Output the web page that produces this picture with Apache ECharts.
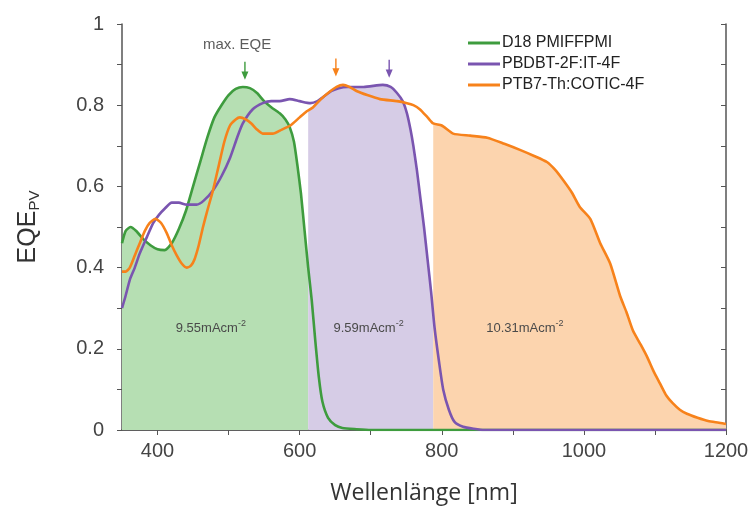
<!DOCTYPE html>
<html>
<head>
<meta charset="utf-8">
<script src="https://cdn.jsdelivr.net/npm/echarts@6/dist/echarts.min.js"></script>
<style>
html, body { margin: 0; padding: 0; background: #fff; }
#chart { width: 755px; height: 521px; }
</style>
</head>
<body>
<div id="chart"></div>
<script>
// D18 PMIFFPMI
var greenWl  = [350, 355, 362, 370, 380, 390, 400, 410, 420, 430, 440, 450, 460, 470, 480, 490, 500, 510, 520, 530, 540, 550, 560, 572, 580, 586, 592, 597, 602, 607, 612, 617, 622, 627, 632, 640, 650, 660, 680, 700, 1200];
var greenEqe = [0.46, 0.49, 0.50, 0.49, 0.47, 0.455, 0.445, 0.443, 0.46, 0.495, 0.54, 0.60, 0.66, 0.72, 0.77, 0.80, 0.825, 0.84, 0.845, 0.842, 0.83, 0.81, 0.795, 0.78, 0.765, 0.746, 0.71, 0.65, 0.58, 0.49, 0.40, 0.32, 0.22, 0.13, 0.07, 0.03, 0.012, 0.005, 0.002, 0, 0];

// PBDBT-2F:IT-4F
var purpleWl  = [350, 355, 361, 368, 375, 385, 394, 402, 410, 420, 430, 441, 455, 465, 478, 490, 502, 512, 520, 534, 548, 560, 572, 586, 600, 615, 625, 633, 645, 655, 667, 690, 717, 728, 737, 745, 751, 756, 760, 765, 770, 775, 780, 785, 790, 796, 802, 810, 818, 830, 845, 860, 1200];
var purpleEqe = [0.30, 0.33, 0.37, 0.40, 0.435, 0.475, 0.51, 0.53, 0.545, 0.56, 0.56, 0.555, 0.555, 0.565, 0.59, 0.625, 0.67, 0.72, 0.755, 0.79, 0.805, 0.81, 0.81, 0.815, 0.81, 0.805, 0.81, 0.82, 0.835, 0.842, 0.845, 0.845, 0.85, 0.845, 0.83, 0.81, 0.78, 0.74, 0.70, 0.64, 0.57, 0.50, 0.42, 0.34, 0.25, 0.17, 0.10, 0.05, 0.02, 0.008, 0.003, 0, 0];

// PTB7-Th:COTIC-4F
var orangeWl  = [350, 355, 361, 368, 375, 382, 389, 397, 405, 413, 420, 427, 434, 441, 447, 452, 458, 464, 470, 478, 486, 494, 502, 510, 516, 524, 532, 540, 548, 562, 575, 587, 600, 610, 619, 630, 640, 652, 661, 670, 680, 695, 713, 737, 751, 760, 769, 780, 788, 800, 816, 840, 864, 888, 910, 930, 948, 960, 971, 983, 994, 1009, 1023, 1037, 1051, 1060, 1069, 1080, 1089, 1098, 1107, 1116, 1125, 1135, 1145, 1160, 1175, 1190, 1200];
var orangeEqe = [0.39, 0.39, 0.40, 0.43, 0.46, 0.49, 0.51, 0.52, 0.51, 0.485, 0.455, 0.43, 0.41, 0.40, 0.405, 0.42, 0.455, 0.50, 0.54, 0.59, 0.65, 0.71, 0.75, 0.765, 0.77, 0.765, 0.755, 0.74, 0.73, 0.73, 0.74, 0.75, 0.77, 0.785, 0.795, 0.815, 0.83, 0.845, 0.85, 0.845, 0.835, 0.825, 0.815, 0.81, 0.805, 0.80, 0.79, 0.77, 0.755, 0.75, 0.73, 0.725, 0.72, 0.705, 0.69, 0.675, 0.66, 0.64, 0.615, 0.585, 0.55, 0.52, 0.46, 0.41, 0.33, 0.29, 0.245, 0.21, 0.18, 0.145, 0.115, 0.085, 0.066, 0.05, 0.04, 0.03, 0.022, 0.018, 0.015];

// shaded band between 612 and 788 nm (upper edge)
var bandPurpleWl  = [612, 620, 630, 640, 652, 667, 690, 717, 728, 737, 745, 751, 756, 760, 765, 770, 775, 780, 785, 788];
var bandPurpleEqe = [0.785, 0.80, 0.815, 0.83, 0.842, 0.845, 0.845, 0.85, 0.845, 0.83, 0.81, 0.78, 0.74, 0.70, 0.64, 0.57, 0.50, 0.42, 0.34, 0.30];

var bandGreenEnd = 612;
var bandOrangeStart = 788;

var seriesNames = ['D18 PMIFFPMI', 'PBDBT-2F:IT-4F', 'PTB7-Th:COTIC-4F'];
var bandCurrents = ['9.55mAcm', '9.59mAcm', '10.31mAcm'];
var bandLabelPos = [[475, 0.25], [697, 0.25], [917, 0.25]];
// arrows marking max. EQE: green, purple, orange
var arrowPos = [[523, 0.885], [726, 0.89], [651, 0.893]];

var xTicks = [400, 500, 600, 700, 800, 900, 1000, 1100, 1200];
var xLabels = [400, 600, 800, 1000, 1200];
var yLabels = [0, 0.2, 0.4, 0.6, 0.8, 1];

var colGreen = '#3e9c3e', colPurple = '#7a55b0', colOrange = '#f7821b';

function pairs(xs, ys) {
	return xs.map(function(x, i) { return [x, ys[i]]; });
}

var greenData = pairs(greenWl, greenEqe);
var purpleData = pairs(purpleWl, purpleEqe);
var orangeData = pairs(orangeWl, orangeEqe);
var greenBand = greenData.filter(function(p) { return p[0] <= bandGreenEnd; });
var purpleBand = pairs(bandPurpleWl, bandPurpleEqe);
var orangeBand = orangeData.filter(function(p) { return p[0] >= bandOrangeStart; });

var arrowPath = 'path://M4,0 L6,0 L6,11 L10,11 L5,20 L0,11 L4,11 Z';

function bandSeries(name, data, color, labelIdx) {
	return {
		name: name,
		type: 'line',
		data: data,
		showSymbol: false,
		silent: true,
		smooth: 0.2,
		lineStyle: { width: 0 },
		areaStyle: { color: color, opacity: 1 },
		z: 1,
		markPoint: {
			silent: true,
			symbol: 'circle',
			symbolSize: 0,
			data: [{ coord: bandLabelPos[labelIdx] }],
			label: {
				show: true,
				position: 'inside',
				formatter: '{a|' + bandCurrents[labelIdx] + '}{b|-2}',
				rich: {
					a: { fontFamily: 'Liberation Sans', fontSize: 13, color: '#4a4a4a' },
					b: { fontFamily: 'Liberation Sans', fontSize: 9, color: '#4a4a4a', padding: [0, 0, 10, 0] }
				}
			}
		}
	};
}

function lineSeries(idx, data, color) {
	return {
		name: seriesNames[idx],
		type: 'line',
		data: data,
		showSymbol: false,
		smooth: 0.2,
		lineStyle: { color: color, width: 2.6 },
		itemStyle: { color: color },
		z: 3,
		markPoint: {
			silent: true,
			symbol: arrowPath,
			symbolSize: [7, 18],
			itemStyle: { color: color },
			label: { show: false },
			data: [{ coord: arrowPos[idx] }]
		}
	};
}

function plain(v) {
	return String(v);
}

var option = {
	animation: false,
	grid: { left: 122, right: 29, top: 24, bottom: 91 },
	legend: {
		data: seriesNames,
		orient: 'vertical',
		left: 468,
		top: 35,
		padding: 0,
		itemGap: 5,
		itemWidth: 32,
		itemHeight: 3,
		icon: 'rect',
		textStyle: { fontFamily: 'Liberation Sans', fontSize: 16, color: '#222', padding: [0, 0, 0, -3] }
	},
	xAxis: [{
		type: 'value',
		min: 350,
		max: 1200,
		name: 'Wellenlänge [nm]',
		nameLocation: 'middle',
		nameGap: 52,
		nameTextStyle: { fontFamily: 'Open Sans', fontSize: 23, color: '#333' },
		axisLine: { lineStyle: { color: '#555', width: 1.5 } },
		axisTick: { customValues: xTicks, inside: false, length: 5, lineStyle: { color: '#555' } },
		axisLabel: { customValues: xLabels, formatter: plain, fontFamily: 'Liberation Sans', fontSize: 20, color: '#444', margin: 11 },
		splitLine: { show: false }
	}, {
		type: 'value',
		position: 'top',
		min: 350,
		max: 1200,
		axisLine: { show: true, lineStyle: { color: '#555', width: 1.5 } },
		axisTick: { customValues: xTicks, inside: true, length: 5, lineStyle: { color: '#555' } },
		axisLabel: { show: false },
		splitLine: { show: false }
	}],
	yAxis: [{
		type: 'value',
		min: 0,
		max: 1,
		interval: 0.1,
		name: '{a|EQE}{b|PV}',
		nameLocation: 'middle',
		nameGap: 80,
		nameTextStyle: {
			rich: {
				a: { fontFamily: 'Liberation Sans', fontSize: 25, color: '#333' },
				b: { fontFamily: 'Liberation Sans', fontSize: 15, color: '#333', padding: [12, 0, 0, 0] }
			}
		},
		axisLine: { show: true, lineStyle: { color: '#555', width: 1.5 } },
		axisTick: { inside: false, length: 5, lineStyle: { color: '#555' } },
		axisLabel: { customValues: yLabels, formatter: plain, fontFamily: 'Liberation Sans', fontSize: 20, color: '#444', margin: 18 },
		splitLine: { show: false }
	}, {
		type: 'value',
		position: 'right',
		min: 0,
		max: 1,
		interval: 0.1,
		axisLine: { show: true, lineStyle: { color: '#555', width: 1.5 } },
		axisTick: { inside: true, length: 5, lineStyle: { color: '#555' } },
		axisLabel: { show: false },
		splitLine: { show: false }
	}],
	series: [
		bandSeries('band-green', greenBand, '#b6dfb3', 0),
		bandSeries('band-purple', purpleBand, '#d6cce6', 1),
		bandSeries('band-orange', orangeBand, '#fcd4ae', 2),
		lineSeries(0, greenData, colGreen),
		lineSeries(1, purpleData, colPurple),
		lineSeries(2, orangeData, colOrange),
		{
			name: 'max-label',
			type: 'scatter',
			data: [[512, 0.948]],
			symbolSize: 0,
			silent: true,
			label: {
				show: true,
				position: 'inside',
				formatter: 'max. EQE',
				fontFamily: 'Liberation Sans',
				fontSize: 15,
				color: '#333'
			}
		}
	]
};

var chart = echarts.init(document.getElementById('chart'));
chart.setOption(option);
</script>
</body>
</html>
